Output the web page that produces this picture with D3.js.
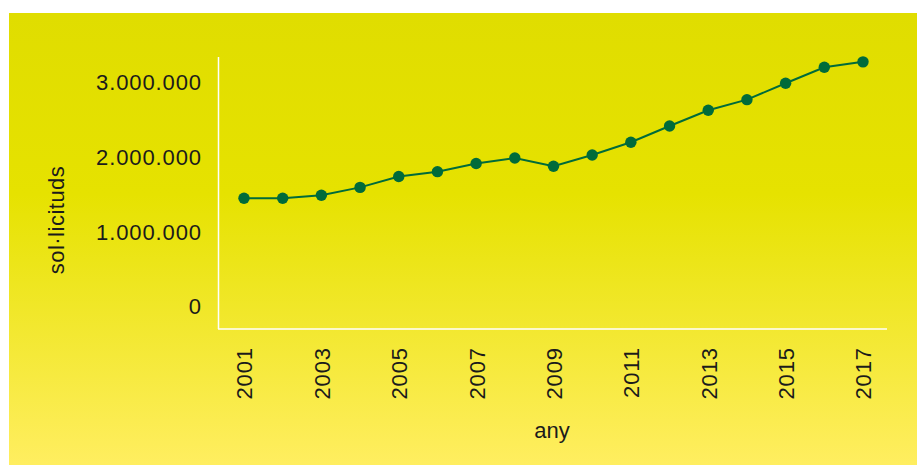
<!DOCTYPE html>
<html>
<head>
<meta charset="utf-8">
<script src="https://cdn.jsdelivr.net/npm/d3@7"></script>
<style>
  body { margin: 0; background: #fff; }
  svg text { font-family: "Liberation Sans", Arial, sans-serif; fill: #1b1b1b; }
</style>
</head>
<body>
<div id="chart"></div>
<script>
// data
var years = [2001, 2002, 2003, 2004, 2005, 2006, 2007, 2008, 2009,
             2010, 2011, 2012, 2013, 2014, 2015, 2016, 2017];
var requests = [1440000, 1440000, 1480000, 1585000, 1730000, 1795000, 1905000, 1978000, 1867000,
                2018000, 2188000, 2405000, 2615000, 2757000, 2976000, 3190000, 3262000];
var yearTicks = [2001, 2003, 2005, 2007, 2009, 2011, 2013, 2015, 2017];
var valueTicks = [0, 1000000, 2000000, 3000000];
var xTitle = "any";
var yTitle = "sol·licituds";

var width = 917, height = 465;
var svg = d3.select("#chart").append("svg")
    .attr("width", width)
    .attr("height", height);

// yellow gradient panel
var grad = svg.append("defs").append("linearGradient")
    .attr("id", "bg").attr("x1", 0).attr("y1", 0).attr("x2", 0).attr("y2", 1);
grad.append("stop").attr("offset", "0%").attr("stop-color", "#e0dd00");
grad.append("stop").attr("offset", "40%").attr("stop-color", "#e6e200");
grad.append("stop").attr("offset", "100%").attr("stop-color", "#ffee60");
svg.append("rect")
    .attr("x", 9).attr("y", 13)
    .attr("width", width - 9).attr("height", height - 13)
    .attr("fill", "url(#bg)");

// scales
var x = d3.scaleLinear().domain([2001, 2017]).range([244, 863]);
var y = d3.scaleLinear().domain([-307000, 3327000]).range([329, 57]);

var locale = d3.formatLocale({ decimal: ",", thousands: ".", grouping: [3], currency: ["", ""] });

// y axis labels
var yAxis = svg.append("g")
    .attr("class", "axis axis-y")
    .attr("transform", "translate(202,0)")
    .call(d3.axisLeft(y).tickValues(valueTicks).tickSize(0).tickPadding(0).tickFormat(locale.format(",d")));
yAxis.select(".domain").remove();
yAxis.selectAll("text")
    .attr("font-size", 22)
    .attr("letter-spacing", 0.9)
    .attr("dy", "0.36em")
    .style("font-family", "Liberation Sans, Arial, sans-serif")
    .attr("fill", "#1b1b1b");

// x axis labels, rotated
var xAxis = svg.append("g")
    .attr("class", "axis axis-x")
    .attr("transform", "translate(0,329)")
    .call(d3.axisBottom(x).tickValues(yearTicks).tickSize(0).tickFormat(d3.format("d")));
xAxis.select(".domain").remove();
xAxis.selectAll("text")
    .attr("font-size", 22)
    .attr("letter-spacing", 0.9)
    .attr("transform", "rotate(-90)")
    .attr("text-anchor", "end")
    .attr("x", -18)
    .attr("y", 0)
    .attr("dy", "0.36em")
    .style("font-family", "Liberation Sans, Arial, sans-serif")
    .attr("fill", "#1b1b1b");

// white axis lines
svg.append("line")
    .attr("x1", 218.5).attr("x2", 218.5).attr("y1", 57).attr("y2", 329)
    .attr("stroke", "#fff").attr("stroke-width", 1.5);
svg.append("line")
    .attr("x1", 218).attr("x2", 887).attr("y1", 329).attr("y2", 329)
    .attr("stroke", "#fff").attr("stroke-width", 1.5);

// titles
svg.append("text")
    .attr("x", 552).attr("y", 438)
    .attr("text-anchor", "middle")
    .attr("font-size", 22)
    .text(xTitle);
svg.append("text")
    .attr("transform", "translate(64,220) rotate(-90)")
    .attr("text-anchor", "middle")
    .attr("font-size", 22)
    .attr("letter-spacing", 0.5)
    .text(yTitle);

// line + dots
var pts = years.map(function (d, i) { return [d, requests[i]]; });
svg.append("path")
    .datum(pts)
    .attr("fill", "none")
    .attr("stroke", "#006b3a")
    .attr("stroke-width", 2)
    .attr("d", d3.line().x(function (d) { return x(d[0]); }).y(function (d) { return y(d[1]); }));
svg.selectAll(".dot")
    .data(pts)
    .enter().append("circle")
    .attr("class", "dot")
    .attr("cx", function (d) { return x(d[0]); })
    .attr("cy", function (d) { return y(d[1]); })
    .attr("r", 5.7)
    .attr("fill", "#006b3a");
</script>
</body>
</html>
